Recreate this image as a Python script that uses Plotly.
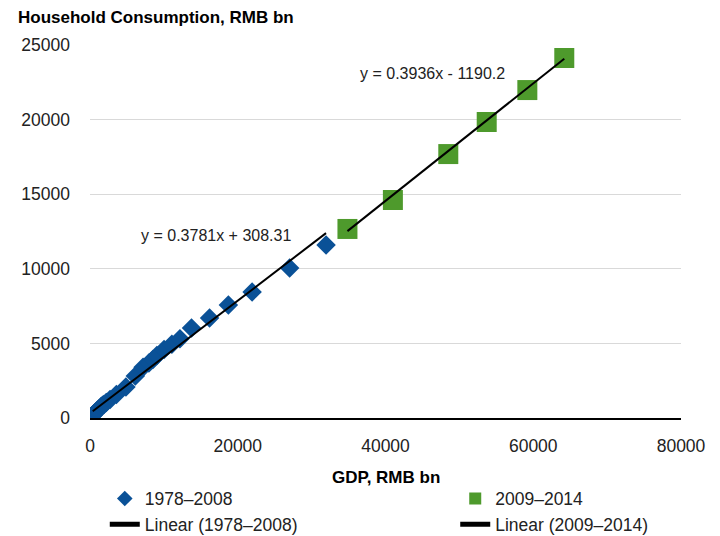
import plotly.graph_objects as go

# GDP vs household consumption, RMB bn
gdp_7808 = [367.9, 410.0, 458.8, 493.6, 537.3, 600.2, 727.9, 901.6, 1027.5, 1205.9,
            1504.3, 1699.2, 1887.3, 2200.6, 2719.5, 3567.4, 4863.8, 6134.0, 7181.4, 7971.5,
            8519.6, 9056.4, 10028.0, 11086.3, 12171.7, 13742.2, 16184.0, 18731.9, 21943.8,
            27023.2, 31951.5]
cons_7808 = [179, 201, 232, 260, 286, 318, 367, 459, 518, 596,
             763, 852, 911, 1032, 1246, 1568, 2081, 2807, 3395, 3692,
             3923, 4192, 4585, 4944, 5306, 6032, 6702, 7574, 8445,
             10054, 11595]
gdp_0914 = [34850, 41000, 48500, 53700, 59200, 64200]
cons_0914 = [12670, 14610, 17690, 19840, 21980, 24130]

# trend line coefficients (slope, intercept)
fit_7808 = (0.3781, 308.31)
fit_0914 = (0.3936, -1190.2)

FONT = "Liberation Sans, Arial, sans-serif"
blue = "#0A5197"
green = "#4E9A2C"


def trend(xs, fit):
    x0, x1 = min(xs), max(xs)
    return [x0, x1], [fit[0] * x0 + fit[1], fit[0] * x1 + fit[1]]


fig = go.Figure()

fig.add_trace(go.Scatter(x=gdp_7808, y=cons_7808, mode="markers", name="1978–2008",
                         marker=dict(symbol="diamond", size=15, color=blue), legend="legend"))
tx, ty = trend(gdp_7808, fit_7808)
fig.add_trace(go.Scatter(x=tx, y=ty, mode="lines", name="Linear (1978–2008)",
                         line=dict(color="black", width=2), legend="legend"))

fig.add_trace(go.Scatter(x=gdp_0914, y=cons_0914, mode="markers", name="2009–2014",
                         marker=dict(symbol="square", size=20, color=green), legend="legend2"))
tx, ty = trend(gdp_0914, fit_0914)
fig.add_trace(go.Scatter(x=tx, y=ty, mode="lines", name="Linear (2009–2014)",
                         line=dict(color="black", width=2), legend="legend2"))

# trendline equations
fig.add_annotation(x=17120, y=12265, text="y = 0.3781x + 308.31", showarrow=False,
                   font=dict(size=16, color="#222"))
fig.add_annotation(x=46300, y=23120, text="y = 0.3936x - 1190.2", showarrow=False,
                   font=dict(size=16, color="#222"))

# axis titles
fig.add_annotation(xref="paper", yref="paper", x=-0.125, y=1.075, xanchor="left", yanchor="middle",
                   text="<b>Household Consumption, RMB bn</b>", showarrow=False,
                   font=dict(size=17, color="black"))
fig.add_annotation(xref="paper", yref="paper", x=0.5, y=-0.159, xanchor="center", yanchor="middle",
                   text="<b>GDP, RMB bn</b>", showarrow=False,
                   font=dict(size=17, color="black"))

legend_style = dict(orientation="v", xanchor="left", yanchor="top", y=-0.168,
                    font=dict(size=17.5, color="#222"), itemsizing="constant",
                    bgcolor="rgba(0,0,0,0)", tracegroupgap=0)

# page body adds an 8px offset, so the figure is 8px smaller and shifted
fig.update_layout(
    width=712, height=528,
    margin=dict(l=82, r=39, t=37, b=118, autoexpand=False),
    paper_bgcolor="white", plot_bgcolor="white",
    font=dict(family=FONT, size=17.5, color="#222"),
    xaxis=dict(range=[0, 80000], dtick=20000, tickformat="d", automargin=False,
               showgrid=False, zeroline=False, showline=True, linecolor="black", linewidth=2,
               ticks="", ticklabelstandoff=11),
    yaxis=dict(range=[0, 25000], dtick=5000, tickformat="d", automargin=False,
               showgrid=True, gridcolor="#D9D9D9", gridwidth=1, zeroline=False, showline=False,
               ticks="", ticklabelstandoff=19),
    legend=dict(x=0.025, **legend_style),
    legend2=dict(x=0.618, **legend_style),
    showlegend=True,
)

fig.write_html("out.html")
